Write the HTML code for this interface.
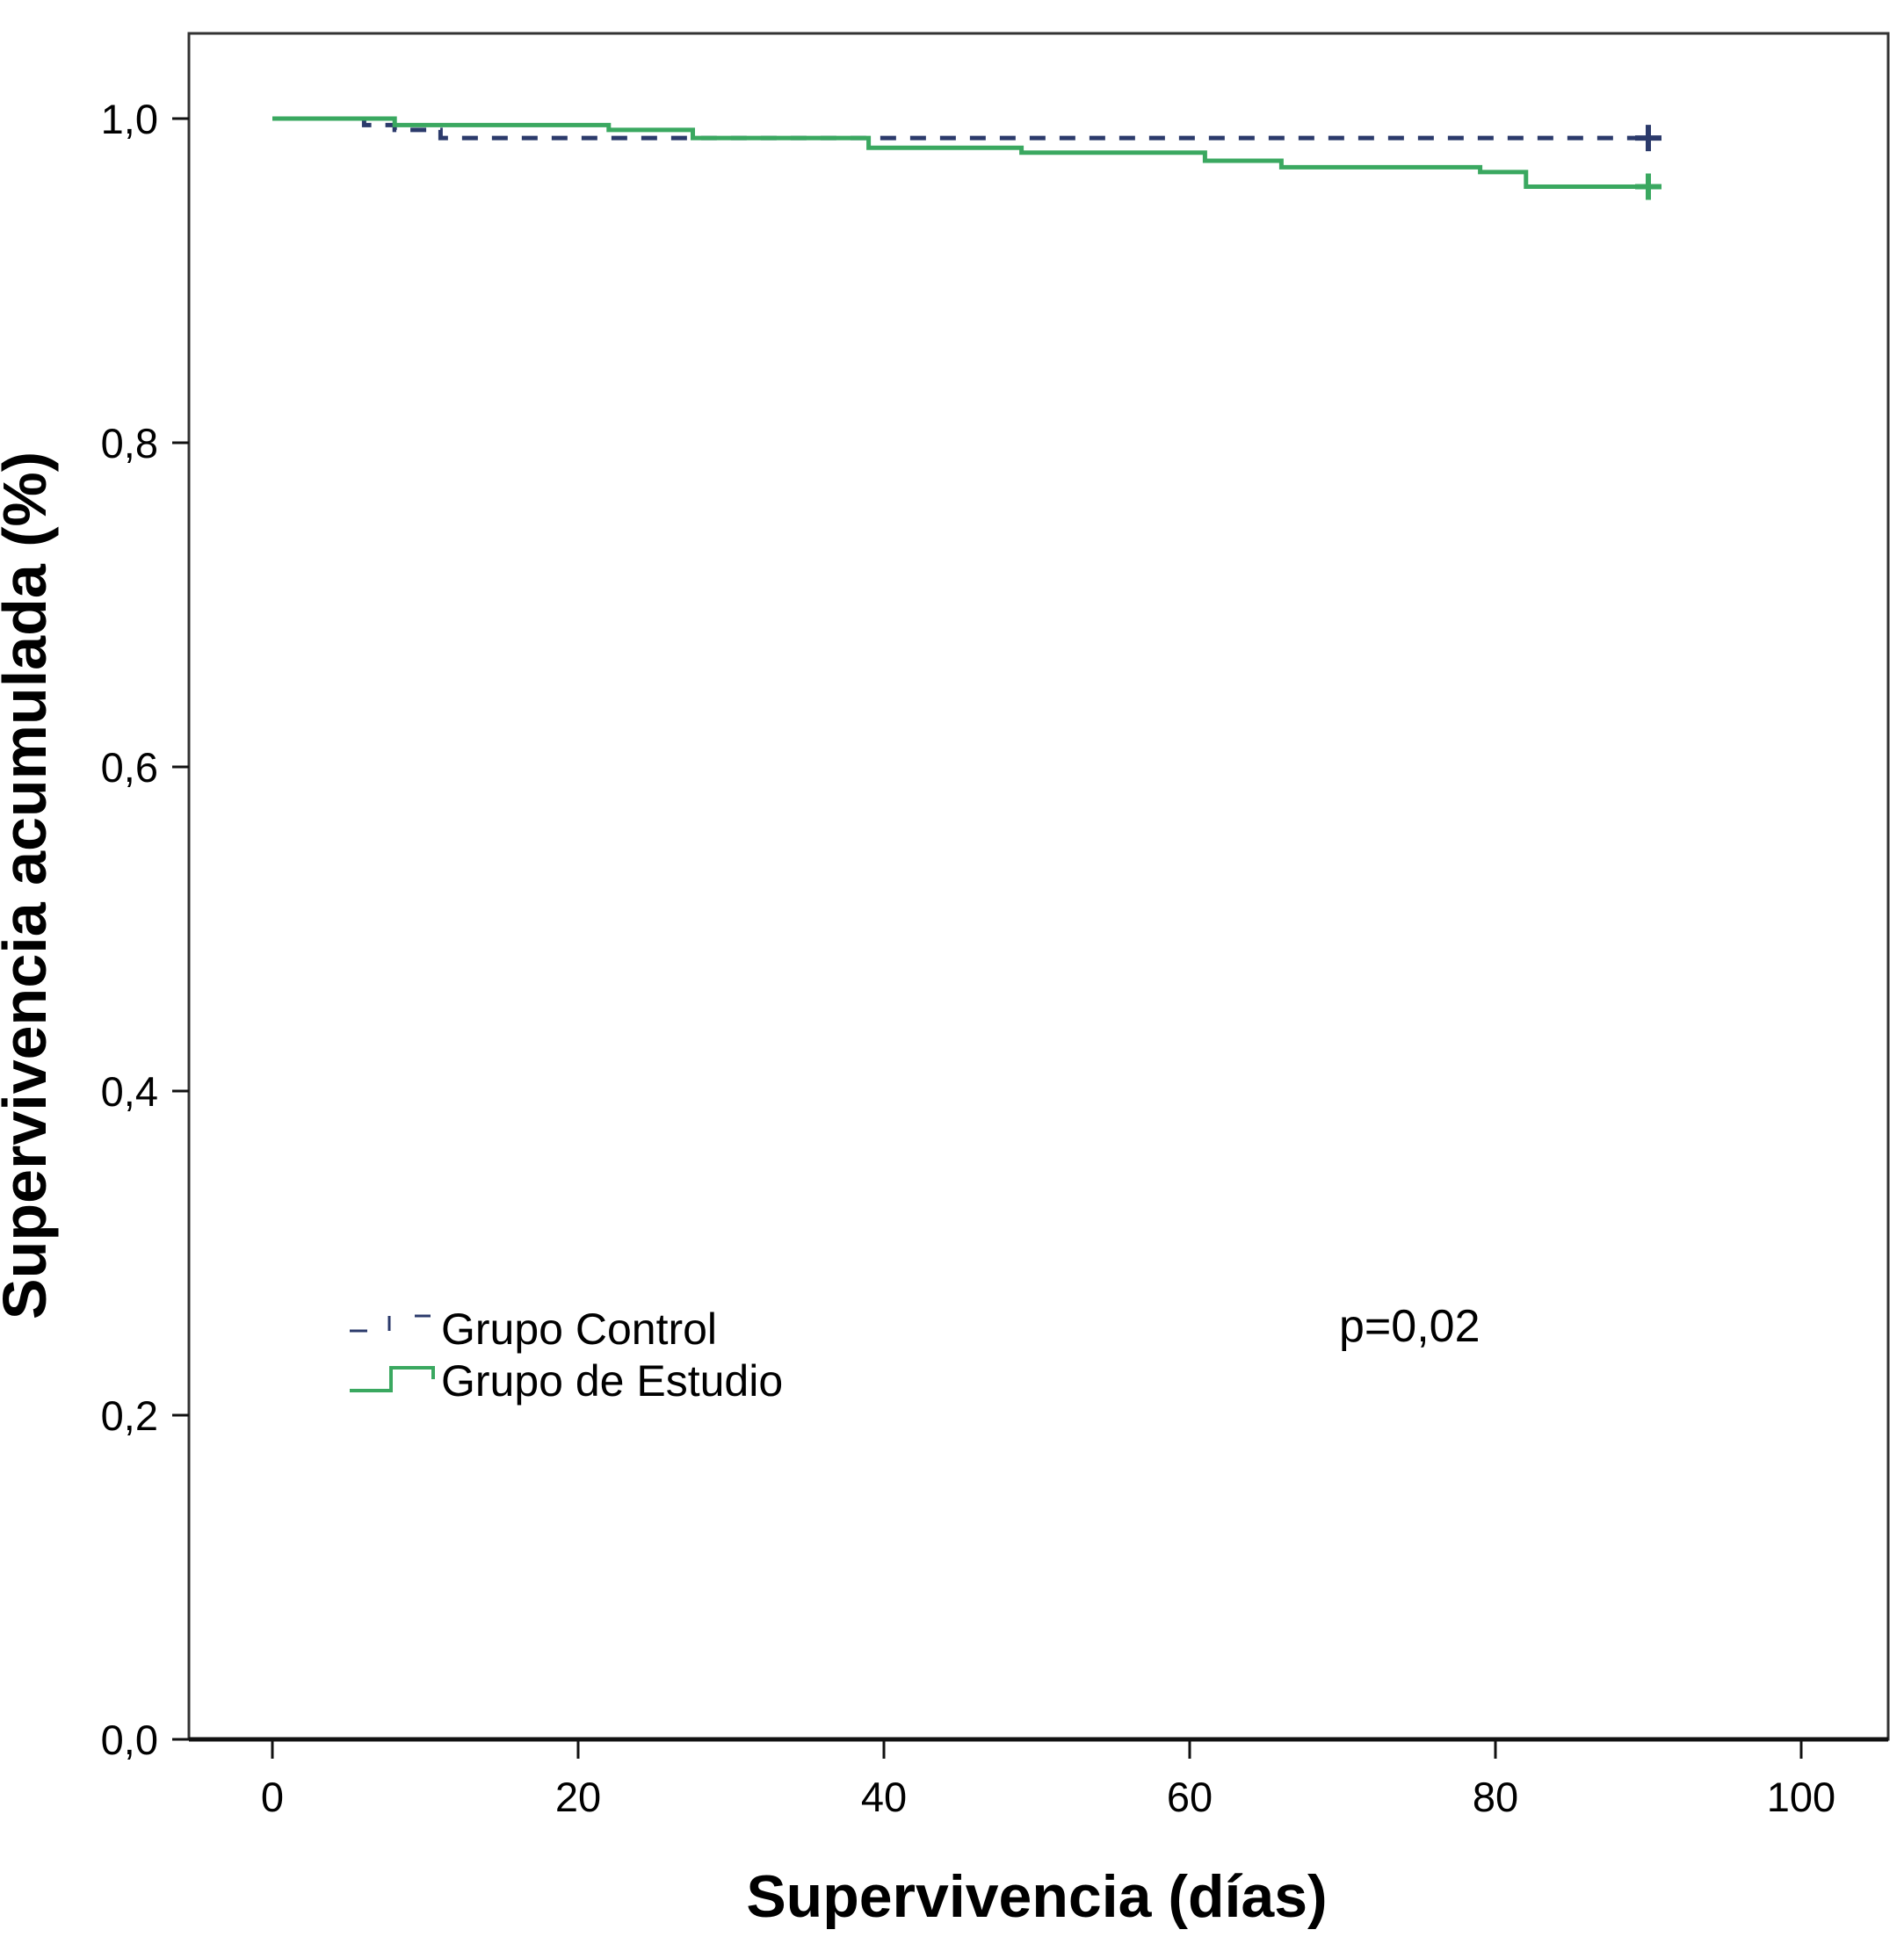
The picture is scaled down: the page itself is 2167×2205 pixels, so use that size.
<!DOCTYPE html>
<html><head><meta charset="utf-8"><style>
body{margin:0;background:#fff}
svg{display:block;font-family:"Liberation Sans",Arial,sans-serif}
</style></head><body>
<svg id="chart" width="2167" height="2205" viewBox="0 0 2167 2205">
<rect x="215" y="38" width="1934" height="1942" fill="#fff" stroke="#333" stroke-width="3"/>
<line x1="215" y1="1980" x2="2149" y2="1980" stroke="#111" stroke-width="5"/>
<g id="yticks"></g>
<g id="xticks"></g>
<g id="series"></g>
<text x="1180" y="2182" text-anchor="middle" font-size="68" font-weight="bold">Supervivencia (días)</text>
<text transform="translate(52,1008) rotate(-90)" text-anchor="middle" font-size="70" font-weight="bold">Supervivencia acumulada (%)</text>
<g>
<path d="M398 1515 H418 M443 1498 V1515 M472 1498 H490" stroke="#2b3a6b" stroke-width="3" fill="none"/>
<path d="M398 1583 H445 V1557 H493 V1570" stroke="#3aa860" stroke-width="4" fill="none"/>
<text x="502" y="1530" font-size="50">Grupo Control</text>
<text x="502" y="1589" font-size="50">Grupo de Estudio</text>
</g>
<text x="1524" y="1527" font-size="52">p=0,02</text>
</svg>
<script>
const yTickVals=[0,0.2,0.4,0.6,0.8,1.0];
const yTickLabels=["0,0","0,2","0,4","0,6","0,8","1,0"];
const xTickVals=[0,20,40,60,80,100];
const controlTimes=[0,6,8,11,90];
const controlSurv=[1.0,0.996,0.993,0.988,0.988];
const estudioTimes=[0,8,22,27.5,39,49,61,66,79,82,90];
const estudioSurv=[1.0,0.996,0.993,0.988,0.982,0.979,0.974,0.970,0.967,0.958,0.958];
const NS="http://www.w3.org/2000/svg";
const X=v=>310+v*(2050-310)/100;
const Y=v=>1980-v*(1980-135);
function mk(tag,attrs,parent){const e=document.createElementNS(NS,tag);for(const k in attrs)e.setAttribute(k,attrs[k]);parent.appendChild(e);return e;}
const yg=document.getElementById('yticks');
yTickVals.forEach((v,i)=>{
 const l=mk('line',{x1:196,x2:215,y1:Y(v),y2:Y(v),stroke:'#111','stroke-width':3},yg);
 
 
 const t=mk('text',{x:180,y:Y(v)+17,'text-anchor':'end','font-size':47},yg);
 t.textContent=yTickLabels[i];
 
 
});
const xg=document.getElementById('xticks');
xTickVals.forEach(v=>{
 const l=mk('line',{x1:X(v),x2:X(v),y1:1980,y2:2002,stroke:'#111','stroke-width':3},xg);
 
 
 const t=mk('text',{x:X(v),y:2062,'text-anchor':'middle','font-size':47},xg);
 t.textContent=String(v);
 
 
});
function stepPath(ts,ss){let d='M'+X(ts[0])+' '+Y(ss[0]);for(let i=1;i<ts.length;i++){d+=' H'+X(ts[i])+' V'+Y(ss[i]);}return d;}
const sg=document.getElementById('series');
const pc=mk('path',{d:stepPath(controlTimes,controlSurv),fill:'none',stroke:'#2b3a6b','stroke-width':5,'stroke-dasharray':'18 16'},sg);


const pe=mk('path',{d:stepPath(estudioTimes,estudioSurv),fill:'none',stroke:'#3aa860','stroke-width':5},sg);


function plus(t,s,c,name){const x=X(t),y=Y(s);const p=mk('path',{d:`M${x-15} ${y} H${x+15} M${x} ${y-15} V${y+15}`,stroke:c,'stroke-width':6},sg);
 
 }
plus(controlTimes[controlTimes.length-1],controlSurv[controlSurv.length-1],'#2b3a6b','control-censor-mark');
plus(estudioTimes[estudioTimes.length-1],estudioSurv[estudioSurv.length-1],'#3aa860','estudio-censor-mark');
</script>
</body></html>
